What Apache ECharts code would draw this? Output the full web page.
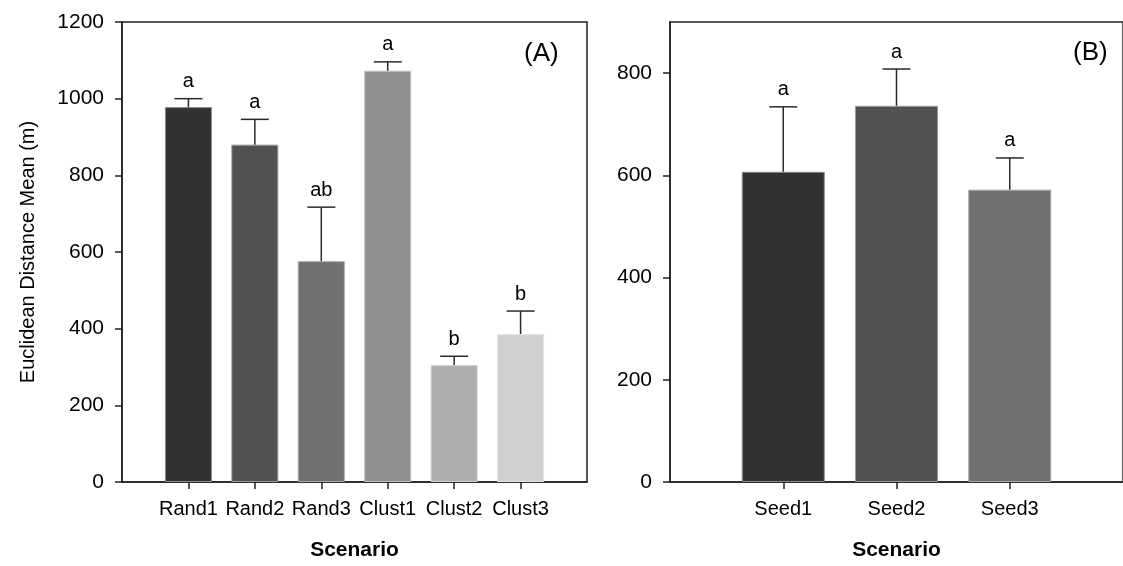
<!DOCTYPE html>
<html><head><meta charset="utf-8">
<script src="https://cdn.jsdelivr.net/npm/echarts@6/dist/echarts.min.js"></script>
<style>html,body{margin:0;padding:0;background:#fff}#c{width:1123px;height:566px}</style>
</head><body><div id="c"></div>
<script>
// ---- data ----
const catsA = ['Rand1', 'Rand2', 'Rand3', 'Clust1', 'Clust2', 'Clust3'];
const meansA = [978, 880, 576, 1073, 305, 386];
const errsA = [22, 66, 141, 23, 23, 60];
const lettersA = ['a', 'a', 'ab', 'a', 'b', 'b'];
const catsB = ['Seed1', 'Seed2', 'Seed3'];
const meansB = [607, 736, 572];
const errsB = [127, 72, 62];
const lettersB = ['a', 'a', 'a'];
const yTicksA = [0, 200, 400, 600, 800, 1000, 1200];
const yTicksB = [0, 200, 400, 600, 800];

// ---- style ----
const FONT = "'Liberation Sans', Arial, Helvetica, sans-serif";
const fillsA = ['#313131', '#515151', '#707070', '#8f8f8f', '#adadad', '#d0d0d0'];
const edgesA = ['#8a8a8a', '#9a9a9a', '#a8a8a8', '#c0c0c0', '#d2d2d2', '#e6e6e6'];
const fillsB = ['#313131', '#515151', '#707070'];
const edgesB = ['#8a8a8a', '#9a9a9a', '#a8a8a8'];
const AXC = '#222';

function errRender(letters, capHalf) {
  return function (params, api) {
    const i = params.dataIndex;
    const x = api.value(0), m = api.value(1), e = api.value(2);
    const base = api.coord([x, m]);
    const top = api.coord([x, m + e]);
    return {
      type: 'group',
      children: [
        { type: 'line', shape: { x1: base[0], y1: base[1], x2: top[0], y2: top[1] }, style: { stroke: '#2a2a2a', lineWidth: 1.5 } },
        { type: 'line', shape: { x1: top[0] - capHalf, y1: top[1], x2: top[0] + capHalf, y2: top[1] }, style: { stroke: '#2a2a2a', lineWidth: 1.5 } },
        { type: 'text', x: top[0], y: top[1] - 7, style: { text: letters[i], fill: '#000', fontSize: 20, fontFamily: FONT, align: 'center', verticalAlign: 'bottom' } }
      ]
    };
  };
}

function xAxisCfg(grid, cats, max) {
  const pos = cats.map((c, i) => i + 1);
  return {
    gridIndex: grid, type: 'value', min: 0, max: max,
    name: 'Scenario', nameLocation: 'middle', nameGap: 58,
    nameTextStyle: { fontSize: 21, fontWeight: 'bold', color: '#000', fontFamily: FONT },
    axisLine: { show: true, lineStyle: { color: AXC, width: 1.5 } },
    axisTick: { show: true, customValues: pos, length: 7, lineStyle: { color: AXC, width: 1.5 } },
    axisLabel: { customValues: pos, margin: 17, fontSize: 20, color: '#000', fontFamily: FONT,
      formatter: v => cats[Math.round(v) - 1] || '' },
    splitLine: { show: false }
  };
}

function yAxisCfg(grid, ticks, max, name) {
  return {
    gridIndex: grid, type: 'value', min: 0, max: max,
    name: name || '', nameLocation: 'middle', nameGap: 84,
    nameTextStyle: { fontSize: 20, color: '#000', fontFamily: FONT },
    axisLine: { show: true, lineStyle: { color: AXC, width: 1.5 } },
    axisTick: { show: true, customValues: ticks, length: 7, lineStyle: { color: AXC, width: 1.5 } },
    axisLabel: { customValues: ticks, margin: 18, fontSize: 21, color: '#000', fontFamily: FONT,
      formatter: v => String(v) },
    splitLine: { show: false }
  };
}

const chart = echarts.init(document.getElementById('c'), null, { renderer: 'canvas' });
chart.setOption({
  backgroundColor: '#fff',
  animation: false,
  grid: [
    { left: 122, top: 22, width: 465, bottom: 78, show: true, borderColor: AXC, borderWidth: 1.5 },
    { left: 670, top: 22, width: 467, bottom: 78, show: true, borderColor: AXC, borderWidth: 1.5 }
  ],
  xAxis: [xAxisCfg(0, catsA, 7), xAxisCfg(1, catsB, 4)],
  yAxis: [yAxisCfg(0, yTicksA, 1200, 'Euclidean Distance Mean (m)'), yAxisCfg(1, yTicksB, 900)],
  graphic: [
    { type: 'text', left: 524, top: 41, style: { text: '(A)', fontSize: 26, fontFamily: FONT, fill: '#000' } },
    { type: 'text', left: 1073, top: 40, style: { text: '(B)', fontSize: 26, fontFamily: FONT, fill: '#000' } }
  ],
  series: [
    {
      type: 'bar', xAxisIndex: 0, yAxisIndex: 0, barWidth: 47, z: 2,
      data: meansA.map((v, i) => ({ value: [i + 1, v], itemStyle: { color: fillsA[i], borderColor: edgesA[i], borderWidth: 1 } }))
    },
    {
      type: 'custom', xAxisIndex: 0, yAxisIndex: 0, z: 3, clip: false,
      renderItem: errRender(lettersA, 14),
      data: meansA.map((v, i) => [i + 1, v, errsA[i]])
    },
    {
      type: 'bar', xAxisIndex: 1, yAxisIndex: 1, barWidth: 83, z: 2,
      data: meansB.map((v, i) => ({ value: [i + 1, v], itemStyle: { color: fillsB[i], borderColor: edgesB[i], borderWidth: 1 } }))
    },
    {
      type: 'custom', xAxisIndex: 1, yAxisIndex: 1, z: 3, clip: false,
      renderItem: errRender(lettersB, 14),
      data: meansB.map((v, i) => [i + 1, v, errsB[i]])
    }
  ]
});
</script>
</body></html>
